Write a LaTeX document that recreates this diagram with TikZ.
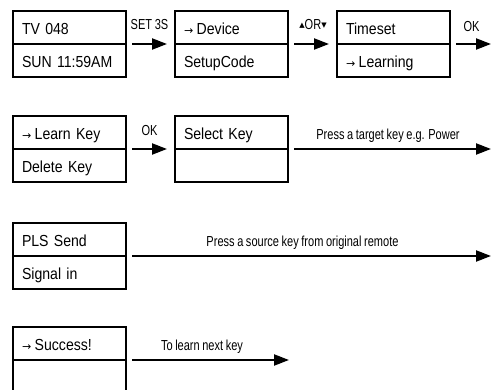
\documentclass[tikz,border=0pt]{standalone}
\usepackage{fontspec}
\setmainfont{Liberation Sans}
\newfontfamily\boxfont[FakeStretch=0.88,WordSpace=0.8]{Liberation Sans}
\newfontfamily\lblfont[FakeStretch=0.76,WordSpace=0.85]{Liberation Sans}
\newfontfamily\symfont{DejaVu Sans}
\usetikzlibrary{arrows.meta}
\newcommand\rarr{{\symfont\fontsize{11pt}{12pt}\selectfont →}\hspace{3.5pt}}
\newcommand\uptri{\raisebox{2.5pt}{\symfont\fontsize{7pt}{8pt}\selectfont ▲}}
\newcommand\dntri{\raisebox{2.5pt}{\symfont\fontsize{7pt}{8pt}\selectfont ▼}}
\tikzset{
  cell/.style={draw, line width=2pt, outer sep=0pt, anchor=north west, minimum width=113pt,
    minimum height=33pt, text width=95pt, inner xsep=9pt, inner ysep=0pt,
    align=left, text height=16pt, text depth=2pt,
    font=\boxfont\fontsize{16pt}{18pt}\selectfont},
  arr/.style={line width=2.2pt, -{Triangle[length=15pt,width=11pt]}},
  lbl/.style={anchor=base, inner sep=0pt, font=\lblfont\fontsize{14.5pt}{16pt}\selectfont},
}
\begin{document}
\begin{tikzpicture}[x=1pt,y=-1pt]
\useasboundingbox (0,0) rectangle (496,390);
\clip (0,0) rectangle (496,390);

% row 1
\node[cell] (a1) at (13,11) {TV 048};
\node[cell] (a2) at (a1.south west) {SUN 11:59AM};
\node[cell] (b1) at (175,11) {\rarr Device};
\node[cell] (b2) at (b1.south west) {SetupCode};
\node[cell] (c1) at (337,11) {Timeset};
\node[cell] (c2) at (c1.south west) {\rarr Learning};
\coordinate (e1) at (491,44);

\draw[arr] ([xshift=6pt]a1.south east) -- node[lbl, midway, yshift=14pt] {SET 3S} ([xshift=-8pt]b1.south west);
\draw[arr] ([xshift=6pt]b1.south east) -- node[lbl, midway, yshift=14pt, xshift=1.5pt] {\uptri OR\dntri} ([xshift=-8pt]c1.south west);
\draw[arr] ([xshift=6pt]c1.south east) -- node[lbl, midway, yshift=12.5pt, xshift=-2pt] {OK} (e1);

% row 2
\node[cell] (d1) at (13,116) {\rarr Learn Key};
\node[cell] (d2) at (d1.south west) {Delete Key};
\node[cell] (f1) at (175,116) {Select Key};
\node[cell] (f2) at (f1.south west) {};
\coordinate (e2) at (491,149);

\draw[arr] ([xshift=6pt]d1.south east) -- node[lbl, midway, yshift=13.3pt] {OK} ([xshift=-8pt]f1.south west);
\draw[arr] ([xshift=6pt]f1.south east) -- node[lbl, midway, yshift=9.3pt, xshift=-4.5pt] {Press a target key e.g. Power} (e2);

% row 3
\node[cell] (g1) at (13,223) {PLS Send};
\node[cell] (g2) at (g1.south west) {Signal in};
\coordinate (e3) at (491,256);
\draw[arr] ([xshift=6pt]g1.south east) -- node[lbl, midway, yshift=9.3pt, xshift=-9pt] {Press a source key from original remote} (e3);

% row 4
\node[cell] (h1) at (13,327) {\rarr Success!};
\node[cell] (h2) at (h1.south west) {};
\coordinate (e4) at (289,360);
\draw[arr] ([xshift=6pt]h1.south east) -- node[lbl, midway, yshift=9pt, xshift=-8.5pt] {To learn next key} (e4);
\end{tikzpicture}
\end{document}
